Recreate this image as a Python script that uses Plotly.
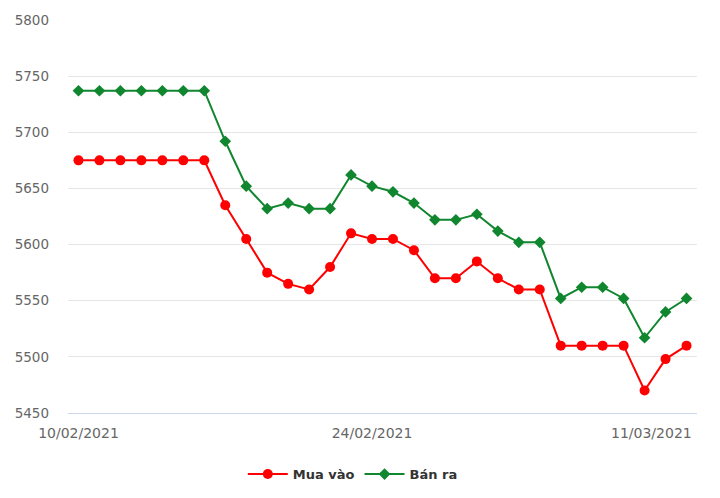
import plotly.graph_objects as go

dates = ["10/02/2021", "11/02/2021", "12/02/2021", "13/02/2021", "14/02/2021",
         "15/02/2021", "16/02/2021", "17/02/2021", "18/02/2021", "19/02/2021",
         "20/02/2021", "21/02/2021", "22/02/2021", "23/02/2021", "24/02/2021",
         "25/02/2021", "26/02/2021", "27/02/2021", "28/02/2021", "01/03/2021",
         "02/03/2021", "03/03/2021", "04/03/2021", "05/03/2021", "06/03/2021",
         "07/03/2021", "08/03/2021", "09/03/2021", "10/03/2021", "11/03/2021"]

mua_vao = [5675, 5675, 5675, 5675, 5675, 5675, 5675, 5635, 5605, 5575,
           5565, 5560, 5580, 5610, 5605, 5605, 5595, 5570, 5570, 5585,
           5570, 5560, 5560, 5510, 5510, 5510, 5510, 5470, 5498, 5510]

ban_ra = [5737, 5737, 5737, 5737, 5737, 5737, 5737, 5692, 5652, 5632,
          5637, 5632, 5632, 5662, 5652, 5647, 5637, 5622, 5622, 5627,
          5612, 5602, 5602, 5552, 5562, 5562, 5552, 5517, 5540, 5552]

tick_labels = [dates[0], dates[14]]
last_label = dates[-1]

RED = "#FF0000"
GREEN = "#10862F"
FONT = "DejaVu Sans"

fig = go.Figure()
fig.add_trace(go.Scatter(
    x=dates, y=mua_vao, name="Mua vào", mode="lines+markers",
    line=dict(color=RED, width=2),
    marker=dict(symbol="circle", size=10, color=RED),
))
fig.add_trace(go.Scatter(
    x=dates, y=ban_ra, name="Bán ra", mode="lines+markers",
    line=dict(color=GREEN, width=2),
    marker=dict(symbol="diamond", size=9, color=GREEN),
))

fig.add_annotation(
    x=last_label, y=0, xref="x", yref="paper", text=last_label,
    showarrow=False, xanchor="right", yanchor="top", xshift=7, yshift=-10,
    font=dict(family=FONT, size=14, color="#666666"),
)

fig.update_layout(
    width=720, height=498,
    margin=dict(l=68, r=23, t=16, b=85),
    paper_bgcolor="white", plot_bgcolor="white",
    font=dict(family=FONT, size=13, color="#666666"),
    showlegend=True,
    legend=dict(
        orientation="h", xref="container", yref="container",
        x=0.49, xanchor="center", y=0.048, yanchor="middle",
        font=dict(family=FONT, size=13, color="#333333", weight="bold"),
        itemwidth=40,
    ),
    xaxis=dict(
        type="category", range=[-0.5, len(dates) - 0.5],
        tickmode="array", tickvals=tick_labels, ticktext=tick_labels,
        showgrid=False, showline=True, linecolor="#ccd6eb", linewidth=1,
        ticks="", ticklabelstandoff=7,
        tickfont=dict(family=FONT, size=14, color="#666666"),
    ),
    yaxis=dict(
        range=[5450, 5800], dtick=50, tick0=5450,
        showgrid=True, gridcolor="#e6e6e6", gridwidth=1,
        zeroline=False, showline=False, ticks="",
        ticklabelstandoff=18,
        tickfont=dict(family=FONT, size=13.5, color="#666666"),
    ),
)

fig.write_html("out.html")
